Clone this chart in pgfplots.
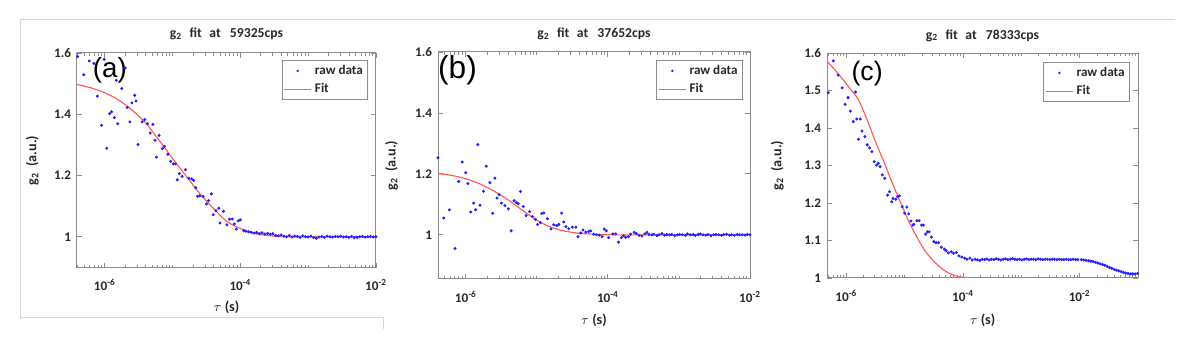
\documentclass[border=0pt]{standalone}
\usepackage{pgfplots}
\pgfplotsset{compat=1.18}
\usepackage{pgfplotstable}
\usepackage{fontspec}
\setmainfont{Carlito}
\newfontfamily\arialfont{Liberation Sans}
\definecolor{txt}{RGB}{40,40,40}
\definecolor{axgray}{RGB}{140,140,140}
\definecolor{dotblue}{RGB}{35,35,255}
\definecolor{fitred}{RGB}{255,90,90}
\definecolor{framegray}{RGB}{215,215,215}

\pgfplotstableread{
lx g
-6.40 1.588
-6.31 1.529
-6.23 1.574
-6.16 1.566
-6.11 1.459
-6.05 1.364
-6.01 1.579
-5.97 1.289
-5.93 1.402
-5.90 1.408
-5.86 1.389
-5.83 1.511
-5.81 1.369
-5.75 1.484
-5.70 1.551
-5.67 1.422
-5.63 1.375
-5.60 1.437
-5.56 1.462
-5.54 1.443
-5.51 1.301
-5.45 1.375
-5.41 1.383
-5.37 1.369
-5.33 1.339
-5.29 1.367
-5.26 1.315
-5.24 1.260
-5.20 1.331
-5.15 1.288
-5.12 1.295
-5.07 1.269
-5.03 1.246
-4.99 1.238
-4.96 1.238
-4.93 1.186
-4.90 1.206
-4.86 1.197
-4.81 1.219
-4.76 1.191
-4.72 1.189
-4.69 1.184
-4.66 1.160
-4.63 1.132
-4.60 1.134
-4.55 1.132
-4.50 1.107
-4.47 1.118
-4.43 1.140
-4.40 1.072
-4.36 1.085
-4.32 1.093
-4.30 1.045
-4.25 1.083
-4.20 1.039
-4.16 1.057
-4.12 1.058
-4.09 1.042
-4.06 1.025
-4.03 1.052
-4.00 1.055
-3.95 1.020
-3.92 1.018
-3.88 1.016
-3.84 1.015
-3.80 1.012
-3.76 1.014
-3.72 1.010
-3.68 1.013
-3.64 1.009
-3.60 1.011
-3.56 1.008
-3.52 1.010
-3.48 1.004
-3.44 1.003
-3.40 1.006
-3.36 1.002
-3.32 1.000
-3.28 1.004
-3.24 0.999
-3.20 1.002
-3.16 1.001
-3.12 0.998
-3.08 1.003
-3.04 1.000
-3.00 0.999
-2.96 1.002
-2.92 0.997
-2.88 0.995
-2.84 0.999
-2.80 1.001
-2.76 0.998
-2.72 1.002
-2.68 1.000
-2.64 0.999
-2.60 1.001
-2.56 1.000
-2.52 1.002
-2.48 0.999
-2.44 1.000
-2.40 0.998
-2.36 1.001
-2.32 0.997
-2.28 0.998
-2.24 1.000
-2.20 1.001
-2.16 0.999
-2.12 1.000
-2.08 1.001
-2.04 0.999
-2.00 1.000
}\dataA

\pgfplotstableread{
lx g
-6.41 1.497
-6.20 1.486
-6.00 1.470
-5.80 1.447
-5.60 1.414
-5.40 1.372
-5.20 1.315
-5.00 1.256
-4.80 1.198
-4.60 1.141
-4.40 1.093
-4.20 1.050
-4.00 1.027
-3.80 1.011
-3.60 1.004
-3.40 1.001
-3.00 1.000
-2.00 1.000
}\fitA

\pgfplotstableread{
lx g
-6.39 1.253
-6.31 1.055
-6.23 1.082
-6.15 0.955
-6.10 1.175
-6.05 1.239
-6.00 1.204
-5.97 1.168
-5.93 1.075
-5.89 1.104
-5.86 1.082
-5.83 1.296
-5.80 1.097
-5.75 1.143
-5.71 1.225
-5.66 1.171
-5.62 1.071
-5.59 1.186
-5.56 1.121
-5.53 1.132
-5.50 1.104
-5.45 1.096
-5.40 1.085
-5.36 1.013
-5.32 1.112
-5.29 1.106
-5.26 1.102
-5.23 1.142
-5.19 1.093
-5.15 1.063
-5.10 1.076
-5.06 1.060
-5.02 1.051
-4.99 1.034
-4.95 1.040
-4.93 1.070
-4.90 1.072
-4.85 1.053
-4.80 1.019
-4.76 1.033
-4.72 1.030
-4.69 1.034
-4.65 1.071
-4.62 1.042
-4.59 1.027
-4.55 1.020
-4.50 1.025
-4.45 1.025
-4.42 0.994
-4.38 1.006
-4.35 1.016
-4.31 1.009
-4.27 1.011
-4.24 1.013
-4.20 1.002
-4.16 1.000
-4.12 0.999
-4.08 0.994
-4.05 1.019
-4.02 1.013
-3.99 0.991
-3.93 1.003
-3.89 1.003
-3.85 0.976
-3.81 0.991
-3.78 0.997
-3.75 0.992
-3.71 0.994
-3.68 1.002
-3.63 1.008
-3.60 1.004
-3.56 0.998
-3.52 0.996
-3.48 1.003
-3.45 1.008
-3.42 1.001
-3.38 1.000
-3.35 1.002
-3.31 0.997
-3.28 1.000
-3.24 1.004
-3.20 0.999
-3.17 1.001
-3.13 1.000
-3.10 1.001
-3.06 0.997
-3.02 1.000
-2.99 1.001
-2.95 1.000
-2.91 0.998
-2.88 1.003
-2.84 1.000
-2.80 1.001
-2.77 0.998
-2.73 1.001
-2.70 1.003
-2.66 1.000
-2.62 0.999
-2.59 1.001
-2.55 0.997
-2.51 1.000
-2.48 1.001
-2.44 1.000
-2.40 0.998
-2.37 1.001
-2.33 1.002
-2.29 0.999
-2.26 1.000
-2.22 0.998
-2.18 1.001
-2.15 1.000
-2.11 1.000
-2.07 0.999
-2.04 1.001
-2.00 1.000
}\dataB

\pgfplotstableread{
lx g
-6.40 1.201
-6.20 1.195
-6.00 1.184
-5.80 1.167
-5.60 1.143
-5.40 1.114
-5.20 1.080
-5.00 1.048
-4.80 1.025
-4.60 1.012
-4.40 1.005
-4.20 1.002
-4.00 1.000
-3.00 1.000
-2.00 1.000
}\fitB

\pgfplotstableread{
lx g
-6.31 1.494
-6.22 1.579
-6.14 1.541
-6.07 1.507
-6.02 1.463
-5.97 1.481
-5.93 1.445
-5.88 1.417
-5.84 1.496
-5.82 1.424
-5.79 1.370
-5.76 1.424
-5.73 1.392
-5.68 1.377
-5.64 1.355
-5.60 1.347
-5.56 1.337
-5.52 1.310
-5.48 1.301
-5.45 1.306
-5.42 1.297
-5.38 1.275
-5.34 1.266
-5.29 1.221
-5.26 1.230
-5.22 1.203
-5.20 1.212
-5.15 1.210
-5.12 1.217
-5.09 1.219
-5.04 1.190
-5.00 1.173
-4.96 1.189
-4.93 1.171
-4.89 1.152
-4.86 1.141
-4.84 1.143
-4.79 1.153
-4.75 1.153
-4.71 1.141
-4.68 1.141
-4.64 1.117
-4.61 1.123
-4.58 1.123
-4.54 1.109
-4.50 1.097
-4.46 1.094
-4.42 1.094
-4.37 1.082
-4.32 1.077
-4.29 1.073
-4.25 1.067
-4.20 1.070
-4.16 1.066
-4.11 1.068
-4.07 1.059
-4.02 1.056
-3.97 1.053
-3.93 1.050
-3.88 1.053
-3.84 1.048
-3.79 1.050
-3.75 1.048
-3.71 1.047
-3.67 1.050
-3.63 1.049
-3.59 1.051
-3.55 1.048
-3.51 1.050
-3.47 1.049
-3.43 1.051
-3.39 1.050
-3.35 1.048
-3.31 1.050
-3.27 1.051
-3.23 1.049
-3.19 1.050
-3.15 1.052
-3.11 1.050
-3.07 1.049
-3.03 1.050
-2.99 1.048
-2.95 1.050
-2.91 1.051
-2.87 1.049
-2.83 1.050
-2.79 1.050
-2.75 1.049
-2.71 1.051
-2.67 1.050
-2.63 1.049
-2.59 1.050
-2.55 1.050
-2.51 1.049
-2.47 1.050
-2.43 1.050
-2.39 1.049
-2.35 1.050
-2.31 1.049
-2.27 1.049
-2.23 1.050
-2.19 1.049
-2.15 1.049
-2.11 1.050
-2.07 1.049
-2.03 1.049
-1.97 1.049
-1.93 1.048
-1.89 1.047
-1.85 1.046
-1.81 1.045
-1.77 1.044
-1.73 1.042
-1.69 1.040
-1.65 1.038
-1.61 1.036
-1.57 1.034
-1.53 1.031
-1.49 1.028
-1.45 1.026
-1.41 1.023
-1.37 1.021
-1.33 1.019
-1.29 1.017
-1.25 1.015
-1.21 1.013
-1.17 1.012
-1.13 1.011
-1.09 1.011
-1.05 1.011
-1.01 1.012
}\dataC

\pgfplotstableread{
lx g
-6.33 1.578
-6.20 1.556
-6.07 1.532
-5.93 1.504
-5.79 1.475
-5.65 1.425
-5.51 1.368
-5.36 1.312
-5.22 1.257
-5.08 1.205
-4.94 1.155
-4.80 1.112
-4.66 1.075
-4.52 1.048
-4.37 1.026
-4.23 1.012
-4.09 1.004
-3.95 1.001
-3.80 1.000
-1.00 1.000
}\fitC

\newcommand{\gtitle}[1]{g\textsubscript{2}\hspace{4.5pt}fit\hspace{4.5pt}at\hspace{5.5pt}#1cps}
\newcommand{\glabel}{g\textsubscript{2}\hspace{3.5pt}(a.u.)}

\begin{document}
\begin{tikzpicture}
\path[use as bounding box] (0,0) rectangle (720pt,213.6pt);
\draw[framegray, line width=0.6pt] (705pt,201.6pt) -- (12pt,201.6pt) -- (12pt,22.8pt) -- (229.8pt,22.8pt) -- (229.8pt,16pt);

% (a)
\begin{axis}[xmode=log, scale only axis,
  at={(46.2pt,52.8pt)}, anchor=south west,
  width=179.4pt, height=129pt,
  xmin=3.89e-7, xmax=1e-2, ymin=0.898, ymax=1.6,
  axis line style={axgray, line width=0.6pt},
  tick style={axgray, line width=0.5pt},
  major tick length=3pt, minor tick length=1.8pt, tick align=inside,
  xtick={1e-6,1e-4,1e-2},
  xticklabels={10\textsuperscript{-6},10\textsuperscript{-4},10\textsuperscript{-2}},
  minor xtick={4e-7,5e-7,6e-7,7e-7,8e-7,9e-7,2e-6,3e-6,4e-6,5e-6,6e-6,7e-6,8e-6,9e-6,1e-5,2e-5,3e-5,4e-5,5e-5,6e-5,7e-5,8e-5,9e-5,2e-4,3e-4,4e-4,5e-4,6e-4,7e-4,8e-4,9e-4,1e-3,2e-3,3e-3,4e-3,5e-3,6e-3,7e-3,8e-3,9e-3},
  ytick={1,1.2,1.4,1.6}, yticklabels={1,1.2,1.4,1.6},
  tick label style={font=\fontsize{7.9}{9}\selectfont\bfseries, text=txt},
  xticklabel style={anchor=base, yshift=-13.6pt},
  title={\gtitle{59325}},
  title style={font=\fontsize{8.2}{9}\selectfont\bfseries, text=txt, at={(0.5,1)}, anchor=base, yshift=3.4pt},
  xlabel={$\tau$ (s)}, ylabel={\glabel},
  xlabel style={font=\fontsize{8.5}{10}\selectfont\bfseries, text=txt, at={(0.5,0)}, anchor=center, yshift=-23.4pt},
  ylabel style={font=\fontsize{8.5}{10}\selectfont\bfseries, text=txt, at={(-0.149,0.5)}, anchor=center},
  legend style={at={(1,1)}, anchor=north east, xshift=-4.6pt, yshift=-4.2pt,
      draw, color=axgray, line width=0.5pt, fill=white,
      font=\fontsize{7.9}{8.5}\selectfont\bfseries, text=txt,
      inner xsep=1pt, inner ysep=0.8pt, row sep=0pt},
  legend cell align=left,
]
\addplot[only marks, mark=*, mark size=0.7pt, color=dotblue, draw=dotblue, fill=dotblue,
  legend image code/.code={\fill[draw=none, fill=dotblue] (8pt,0pt) circle (0.8pt);}] table[x expr={10^(\thisrow{lx})}, y=g] {\dataA};
\addlegendentry{raw data}
\addplot[color=fitred, draw=fitred, line width=0.7pt, smooth, no marks,
  legend image code/.code={\draw[draw=fitred, color=fitred, line width=0.7pt] (0pt,0pt) -- (16pt,0pt);}] table[x expr={10^(\thisrow{lx})}, y=g] {\fitA};
\addlegendentry{Fit}
\node[font=\arialfont\fontsize{16.6}{18}\selectfont, inner sep=0pt] at (rel axis cs:0.110,0.921) {(a)};
\end{axis}

% (b)
\begin{axis}[xmode=log, scale only axis,
  at={(262.8pt,46.2pt)}, anchor=south west,
  width=187.2pt, height=136.2pt,
  xmin=4.07e-7, xmax=1e-2, ymin=0.855, ymax=1.6,
  axis line style={axgray, line width=0.6pt},
  tick style={axgray, line width=0.5pt},
  major tick length=3pt, minor tick length=1.8pt, tick align=inside,
  xtick={1e-6,1e-4,1e-2},
  xticklabels={10\textsuperscript{-6},10\textsuperscript{-4},10\textsuperscript{-2}},
  minor xtick={5e-7,6e-7,7e-7,8e-7,9e-7,2e-6,3e-6,4e-6,5e-6,6e-6,7e-6,8e-6,9e-6,1e-5,2e-5,3e-5,4e-5,5e-5,6e-5,7e-5,8e-5,9e-5,2e-4,3e-4,4e-4,5e-4,6e-4,7e-4,8e-4,9e-4,1e-3,2e-3,3e-3,4e-3,5e-3,6e-3,7e-3,8e-3,9e-3},
  ytick={1,1.2,1.4,1.6}, yticklabels={1,1.2,1.4,1.6},
  tick label style={font=\fontsize{7.9}{9}\selectfont\bfseries, text=txt},
  xticklabel style={anchor=base, yshift=-14pt},
  title={\gtitle{37652}},
  title style={font=\fontsize{8.2}{9}\selectfont\bfseries, text=txt, at={(0.5,1)}, anchor=base, yshift=2.8pt},
  xlabel={$\tau$ (s)}, ylabel={\glabel},
  xlabel style={font=\fontsize{8.5}{10}\selectfont\bfseries, text=txt, at={(0.5,0)}, anchor=center, yshift=-24.6pt},
  ylabel style={font=\fontsize{8.5}{10}\selectfont\bfseries, text=txt, at={(-0.149,0.5)}, anchor=center},
  legend style={at={(1,1)}, anchor=north east, xshift=-4.2pt, yshift=-4.8pt,
      draw, color=axgray, line width=0.5pt, fill=white,
      font=\fontsize{7.9}{8.5}\selectfont\bfseries, text=txt,
      inner xsep=1pt, inner ysep=0.8pt, row sep=0pt},
  legend cell align=left,
]
\addplot[only marks, mark=*, mark size=0.7pt, color=dotblue, draw=dotblue, fill=dotblue,
  legend image code/.code={\fill[draw=none, fill=dotblue] (8pt,0pt) circle (0.8pt);}] table[x expr={10^(\thisrow{lx})}, y=g] {\dataB};
\addlegendentry{raw data}
\addplot[color=fitred, draw=fitred, line width=0.7pt, smooth, no marks,
  legend image code/.code={\draw[draw=fitred, color=fitred, line width=0.7pt] (0pt,0pt) -- (16pt,0pt);}] table[x expr={10^(\thisrow{lx})}, y=g] {\fitB};
\addlegendentry{Fit}
\node[font=\arialfont\fontsize{19}{21}\selectfont, inner sep=0pt] at (rel axis cs:0.0625,0.921) {(b)};
\end{axis}

% (c)
\begin{axis}[xmode=log, scale only axis,
  at={(496.2pt,46.8pt)}, anchor=south west,
  width=186.6pt, height=135pt,
  xmin=4.68e-7, xmax=1e-1, ymin=1, ymax=1.6,
  axis line style={axgray, line width=0.6pt},
  tick style={axgray, line width=0.5pt},
  major tick length=3pt, minor tick length=1.8pt, tick align=inside,
  xtick={1e-6,1e-4,1e-2},
  xticklabels={10\textsuperscript{-6},10\textsuperscript{-4},10\textsuperscript{-2}},
  minor xtick={5e-7,6e-7,7e-7,8e-7,9e-7,2e-6,3e-6,4e-6,5e-6,6e-6,7e-6,8e-6,9e-6,1e-5,2e-5,3e-5,4e-5,5e-5,6e-5,7e-5,8e-5,9e-5,2e-4,3e-4,4e-4,5e-4,6e-4,7e-4,8e-4,9e-4,1e-3,2e-3,3e-3,4e-3,5e-3,6e-3,7e-3,8e-3,9e-3,2e-2,3e-2,4e-2,5e-2,6e-2,7e-2,8e-2,9e-2},
  ytick={1,1.1,1.2,1.3,1.4,1.5,1.6}, yticklabels={1,1.1,1.2,1.3,1.4,1.5,1.6},
  tick label style={font=\fontsize{7.9}{9}\selectfont\bfseries, text=txt},
  xticklabel style={anchor=base, yshift=-14.2pt},
  title={\gtitle{78333}},
  title style={font=\fontsize{8.2}{9}\selectfont\bfseries, text=txt, at={(0.5,1)}, anchor=base, yshift=2.4pt},
  xlabel={$\tau$ (s)}, ylabel={\glabel},
  xlabel style={font=\fontsize{8.5}{10}\selectfont\bfseries, text=txt, at={(0.5,0)}, anchor=center, yshift=-25.2pt},
  ylabel style={font=\fontsize{8.5}{10}\selectfont\bfseries, text=txt, at={(-0.160,0.5)}, anchor=center},
  legend style={at={(1,1)}, anchor=north east, xshift=-4.8pt, yshift=-5.4pt,
      draw, color=axgray, line width=0.5pt, fill=white,
      font=\fontsize{7.9}{8.5}\selectfont\bfseries, text=txt,
      inner xsep=1pt, inner ysep=0.8pt, row sep=0pt},
  legend cell align=left,
]
\addplot[only marks, mark=*, mark size=0.7pt, color=dotblue, draw=dotblue, fill=dotblue,
  legend image code/.code={\fill[draw=none, fill=dotblue] (8pt,0pt) circle (0.8pt);}] table[x expr={10^(\thisrow{lx})}, y=g] {\dataC};
\addlegendentry{raw data}
\addplot[color=fitred, draw=fitred, line width=0.7pt, smooth, no marks,
  legend image code/.code={\draw[draw=fitred, color=fitred, line width=0.7pt] (0pt,0pt) -- (16pt,0pt);}] table[x expr={10^(\thisrow{lx})}, y=g] {\fitC};
\addlegendentry{Fit}
\node[font=\arialfont\fontsize{16}{18}\selectfont, inner sep=0pt] at (rel axis cs:0.129,0.907) {(c)};
\end{axis}
\end{tikzpicture}
\end{document}
